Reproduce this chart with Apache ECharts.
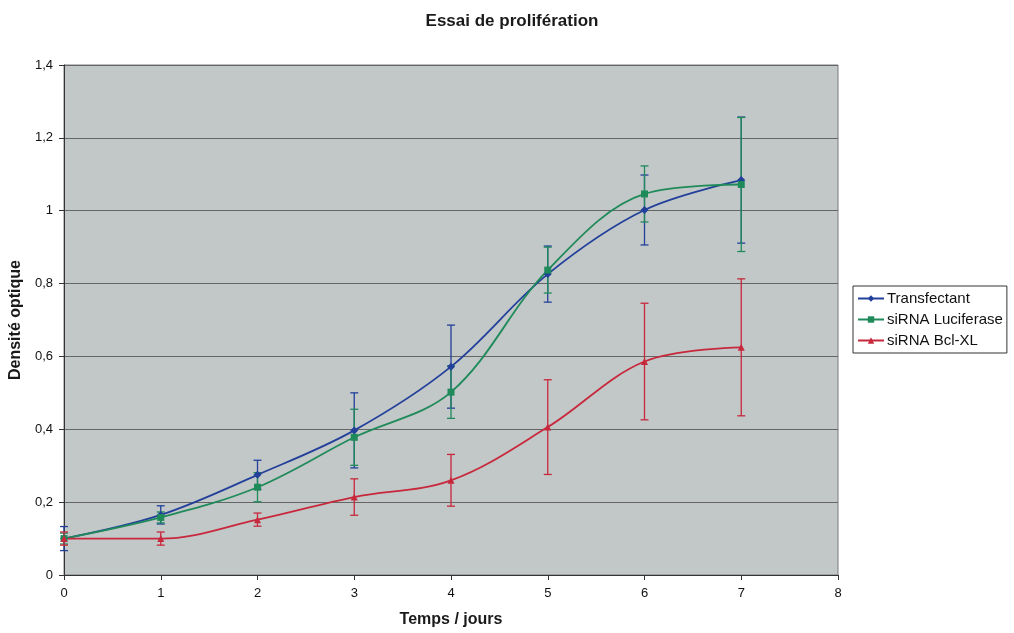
<!DOCTYPE html>
<html>
<head>
<meta charset="utf-8">
<title>Essai de prolifération</title>
<script src="https://cdn.jsdelivr.net/npm/echarts@6/dist/echarts.min.js"></script>
<style>
  html, body { margin: 0; padding: 0; background: #fff; }
  #main { width: 1014px; height: 633px; }
</style>
</head>
<body>
<div id="main"></div>
<script>
// jours
const days = [0, 1, 2, 3, 4, 5, 6, 7];

// densité optique moyenne
const transfectant = [0.100, 0.165, 0.275, 0.397, 0.572, 0.826, 1.002, 1.084];
const siLuciferase = [0.100, 0.158, 0.241, 0.378, 0.502, 0.837, 1.046, 1.072];
const siBclXL = [0.100, 0.100, 0.152, 0.214, 0.260, 0.406, 0.586, 0.625];

// écart (barres d'erreur, +/-)
const errTransfectant = [0.033, 0.025, 0.040, 0.103, 0.114, 0.077, 0.096, 0.173];
const errLuciferase = [0.015, 0.015, 0.040, 0.077, 0.072, 0.063, 0.077, 0.184];
const errBclXL = [0.018, 0.018, 0.018, 0.050, 0.071, 0.130, 0.160, 0.188];

const yTicks = [0, 0.2, 0.4, 0.6, 0.8, 1, 1.2, 1.4];

const colors = {
  blue: '#22409a',
  green: '#1f8a5a',
  red: '#c8283c'
};

function pairs(vals) {
  return days.map((d, i) => [d, vals[i]]);
}

function errData(vals, errs) {
  return days.map((d, i) => [d, vals[i] - errs[i], vals[i] + errs[i]]);
}

function errorBars(name, vals, errs, color) {
  return {
    type: 'custom',
    name: name + ' err',
    silent: true,
    z: 1,
    data: errData(vals, errs),
    renderItem: function (params, api) {
      const x = api.value(0);
      const lo = api.coord([x, api.value(1)]);
      const hi = api.coord([x, api.value(2)]);
      const w = 4;
      const style = { stroke: color, lineWidth: 1.3 };
      return {
        type: 'group',
        children: [
          { type: 'line', shape: { x1: lo[0], y1: lo[1], x2: hi[0], y2: hi[1] }, style: style },
          { type: 'line', shape: { x1: hi[0] - w, y1: hi[1], x2: hi[0] + w, y2: hi[1] }, style: style },
          { type: 'line', shape: { x1: lo[0] - w, y1: lo[1], x2: lo[0] + w, y2: lo[1] }, style: style }
        ]
      };
    }
  };
}

function lineSeries(name, vals, color, symbol) {
  return {
    type: 'line',
    name: name,
    data: pairs(vals),
    smooth: 0.35,
    symbol: symbol,
    symbolSize: symbol === 'diamond' ? 8 : 7,
    z: 3,
    lineStyle: { color: color, width: 1.8 },
    itemStyle: { color: color }
  };
}

const chart = echarts.init(document.getElementById('main'));

const option = {
  backgroundColor: '#ffffff',
  animation: false,
  textStyle: { fontFamily: 'Liberation Sans, Arial, sans-serif', color: '#000' },
  title: {
    text: 'Essai de prolifération',
    left: 507,
    top: 8,
    textAlign: 'center',
    textStyle: { fontSize: 17, fontWeight: 'bold', color: '#1a1a1a' }
  },
  grid: {
    left: 64,
    top: 65,
    right: 176,
    bottom: 56,
    show: true,
    backgroundColor: '#c2c7c8',
    borderColor: '#7a7a7a',
    borderWidth: 1
  },
  legend: {
    orient: 'vertical',
    left: 853,
    top: 286,
    data: ['Transfectant', 'siRNA Luciferase', 'siRNA Bcl-XL'],
    backgroundColor: '#ffffff',
    borderColor: '#333',
    borderWidth: 1,
    padding: [5, 4, 5, 4],
    itemGap: 6,
    itemWidth: 26,
    itemHeight: 8,
    textStyle: { fontSize: 15, color: '#111', padding: [0, 0, 0, -2] }
  },
  xAxis: {
    type: 'value',
    min: 0,
    max: 8,
    interval: 1,
    name: 'Temps / jours',
    nameLocation: 'middle',
    nameGap: 37,
    nameTextStyle: { fontSize: 16, fontWeight: 'bold', color: '#1a1a1a' },
    axisLine: { onZero: false, lineStyle: { color: '#333' } },
    axisTick: { show: true, length: 5, lineStyle: { color: '#333' } },
    axisLabel: { fontSize: 13, color: '#111', margin: 12 },
    splitLine: { show: false }
  },
  yAxis: {
    type: 'value',
    min: 0,
    max: 1.4,
    interval: 0.2,
    name: 'Densité optique',
    nameLocation: 'middle',
    nameGap: 40,
    nameTextStyle: { fontSize: 16, fontWeight: 'bold', color: '#1a1a1a' },
    axisLine: { show: true, lineStyle: { color: '#333' } },
    axisTick: { show: true, length: 5, lineStyle: { color: '#333' } },
    axisLabel: {
      fontSize: 13,
      color: '#111',
      margin: 11,
      formatter: function (v) {
        const t = yTicks.find(k => Math.abs(k - v) < 1e-6);
        return String(t !== undefined ? t : v).replace('.', ',');
      }
    },
    splitLine: { show: true, lineStyle: { color: '#666', width: 1 } }
  },
  series: [
    errorBars('Transfectant', transfectant, errTransfectant, colors.blue),
    errorBars('siRNA Luciferase', siLuciferase, errLuciferase, colors.green),
    errorBars('siRNA Bcl-XL', siBclXL, errBclXL, colors.red),
    lineSeries('Transfectant', transfectant, colors.blue, 'diamond'),
    lineSeries('siRNA Luciferase', siLuciferase, colors.green, 'rect'),
    lineSeries('siRNA Bcl-XL', siBclXL, colors.red, 'triangle')
  ]
};

chart.setOption(option);
</script>
</body>
</html>
